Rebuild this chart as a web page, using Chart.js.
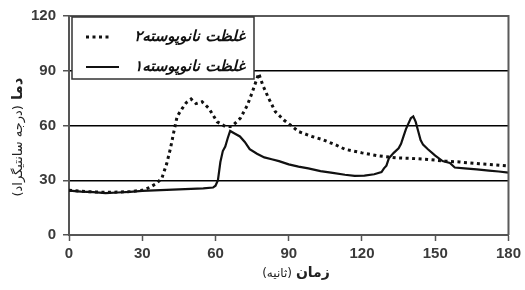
<!DOCTYPE html>
<html>
<head>
<meta charset="utf-8">
<script src="https://cdn.jsdelivr.net/npm/chart.js@4/dist/chart.umd.min.js"></script>
<style>
  html, body { margin: 0; padding: 0; background: #fff; }
  #wrap { width: 525px; height: 290px; }
</style>
</head>
<body>
<div id="wrap"><canvas id="dama"></canvas></div>
<script>
// داده‌ها (خوانده‌شده از تصویر)
const legendLabels = ['غلظت نانوپوسته۲', 'غلظت نانوپوسته۱'];
const yTitle = ['دما', '(درجه سانتیگراد)'];
const xTitle = ['زمان', '(ثانیه)'];

// نانوپوسته ۱ (خط پیوسته)
const zaman1 = [0, 5, 10, 15, 20, 25, 30, 35, 40, 45, 50, 55, 59, 60, 61, 62, 63, 64, 65, 66, 68, 70, 72, 74, 77, 80, 83, 86, 90, 94, 98, 103, 108, 113, 117, 121, 125, 128, 129, 130, 131, 133, 135, 136, 137, 138, 139, 140, 141, 142, 143, 144, 145, 147, 150, 153, 156, 158, 162, 167, 172, 176, 180];
const dama1 = [24.3, 23.8, 23.5, 23, 23.3, 23.6, 24.2, 24.5, 24.7, 25, 25.3, 25.6, 26, 27, 30, 40, 46, 48.5, 53, 57, 55.5, 54, 51, 47, 44.5, 42.5, 41.5, 40.5, 38.7, 37.5, 36.5, 35, 34, 33, 32.4, 32.5, 33.3, 34.5, 36.5, 38, 42, 45, 47.5, 50, 54, 58, 61, 64, 65, 62, 57, 52, 49.5, 47, 43.5, 40.5, 39.5, 37, 36.5, 36, 35.3, 34.8, 34.2];

// نانوپوسته ۲ (خط نقطه‌چین)
const zaman2 = [0, 5, 10, 15, 20, 25, 30, 33, 35.5, 38, 40, 41.6, 43, 44.3, 46.4, 48, 50, 52, 54.5, 57.3, 60.7, 64, 66.7, 70.2, 73, 75, 77.7, 79.4, 81.8, 84.5, 88, 90, 94, 99.5, 103.6, 109, 113, 120, 127, 134, 140, 147, 154, 160, 168, 174, 180];
const dama2 = [24.5, 24, 23.6, 23.4, 23.5, 23.8, 24.5, 26, 28, 31, 39, 47.7, 57, 65, 69.4, 72.5, 74.5, 72, 73, 69.4, 62, 59.5, 59.5, 64, 71, 78, 88.5, 82, 74.8, 67.6, 63, 61, 56.7, 54, 52.4, 49.5, 47, 45, 43.3, 42.3, 42, 41.4, 40.5, 40, 39, 38.5, 37.8];

const tikY = [0, 30, 60, 90, 120];
const tikX = [0, 30, 60, 90, 120, 150, 180];

const tikFont = { family: "'Liberation Sans', Arial, sans-serif", size: 15, weight: 'bold' };

// چارچوب، راهنما و عنوان محورها
const ghabPlugin = {
  id: 'ghab',
  afterDatasetsDraw(chart) {
    const { ctx, chartArea: a } = chart;
    ctx.save();
    // قاب نمودار
    ctx.strokeStyle = '#5a5a5a';
    ctx.lineWidth = 2;
    ctx.beginPath();
    ctx.moveTo(a.left, a.top);
    ctx.lineTo(a.right, a.top);
    ctx.lineTo(a.right, a.bottom);
    ctx.stroke();

    // جعبه راهنما
    const bx = 72, by = 17, bw = 182, bh = 62;
    ctx.fillStyle = '#fff';
    ctx.fillRect(bx, by, bw, bh);
    ctx.strokeStyle = '#333';
    ctx.lineWidth = 1.5;
    ctx.strokeRect(bx, by, bw, bh);

    const rows = [37, 67];
    chart.data.datasets.forEach((ds, i) => {
      const y = rows[i];
      ctx.strokeStyle = ds.borderColor;
      ctx.lineWidth = ds.borderWidth;
      ctx.setLineDash(ds.borderDash || []);
      ctx.beginPath();
      ctx.moveTo(86, y);
      ctx.lineTo(i === 0 ? 112 : 119, y);
      ctx.stroke();
      ctx.setLineDash([]);
      ctx.fillStyle = '#111';
      ctx.font = "italic bold 15px 'DejaVu Sans', 'Noto Sans', sans-serif";
      ctx.direction = 'rtl';
      ctx.textAlign = 'right';
      ctx.textBaseline = 'middle';
      ctx.fillText(ds.label, 245, y);
    });

    // عنوان محور عمودی
    ctx.save();
    ctx.translate(18, 137);
    ctx.rotate(-Math.PI / 2);
    ctx.direction = 'ltr';
    ctx.textBaseline = 'middle';
    ctx.font = "bold 15px 'DejaVu Sans', sans-serif";
    const w1 = ctx.measureText(yTitle[0]).width;
    ctx.font = "13px 'DejaVu Sans', sans-serif";
    const w2 = ctx.measureText(yTitle[1]).width;
    const total = w1 + 5 + w2;
    ctx.fillStyle = '#222';
    ctx.textAlign = 'right';
    ctx.direction = 'rtl';
    ctx.font = "bold 15px 'DejaVu Sans', sans-serif";
    ctx.fillText(yTitle[0], total / 2, 0);
    ctx.font = "13px 'DejaVu Sans', sans-serif";
    ctx.fillText(yTitle[1], total / 2 - w1 - 5, 1);
    ctx.restore();

    // عنوان محور افقی
    ctx.save();
    ctx.textBaseline = 'middle';
    ctx.direction = 'ltr';
    ctx.font = "bold 14px 'DejaVu Sans', sans-serif";
    const v1 = ctx.measureText(xTitle[0]).width;
    ctx.font = "12px 'DejaVu Sans', sans-serif";
    const v2 = ctx.measureText(xTitle[1]).width;
    const cx = 296, tot = v1 + 4 + v2;
    ctx.fillStyle = '#222';
    ctx.direction = 'rtl';
    ctx.textAlign = 'right';
    ctx.font = "bold 14px 'DejaVu Sans', sans-serif";
    ctx.fillText(xTitle[0], cx + tot / 2, 273);
    ctx.font = "12px 'DejaVu Sans', sans-serif";
    ctx.fillText(xTitle[1], cx + tot / 2 - v1 - 4, 274);
    ctx.restore();

    ctx.restore();
  }
};

new Chart(document.getElementById('dama'), {
  type: 'line',
  data: {
    datasets: [
      {
        label: legendLabels[0],
        data: zaman2.map((t, i) => ({ x: t, y: dama2[i] })),
        borderColor: '#111',
        borderWidth: 3,
        borderDash: [3, 3.5],
        pointRadius: 0,
        tension: 0,
        fill: false
      },
      {
        label: legendLabels[1],
        data: zaman1.map((t, i) => ({ x: t, y: dama1[i] })),
        borderColor: '#111',
        borderWidth: 2.2,
        pointRadius: 0,
        tension: 0,
        fill: false
      }
    ]
  },
  options: {
    responsive: true,
    maintainAspectRatio: false,
    animation: false,
    layout: { padding: { top: 15, right: 14, left: 0, bottom: 0 } },
    plugins: { legend: { display: false }, tooltip: { enabled: false } },
    scales: {
      x: {
        type: 'linear',
        min: 0, max: 180,
        afterBuildTicks: s => { s.ticks = tikX.map(v => ({ value: v })); },
        afterFit: s => { s.height = 55; },
        grid: { drawOnChartArea: false, tickLength: 6, tickColor: '#555', tickWidth: 1.5 },
        border: { color: '#555', width: 2 },
        ticks: { color: '#3a3a3a', font: tikFont, padding: 4, maxRotation: 0 }
      },
      y: {
        min: 0, max: 120,
        afterBuildTicks: s => { s.ticks = tikY.map(v => ({ value: v })); },
        afterFit: s => { s.width = 69; },
        grid: {
          color: c => (c.tick && c.tick.value > 0 && c.tick.value < 120) ? '#000' : 'rgba(0,0,0,0)',
          lineWidth: 1.5,
          tickLength: 6,
          tickColor: '#555',
          tickWidth: 1.5
        },
        border: { color: '#555', width: 2 },
        ticks: { color: '#3a3a3a', font: tikFont, padding: 7 }
      }
    }
  },
  plugins: [ghabPlugin]
});
</script>
</body>
</html>
